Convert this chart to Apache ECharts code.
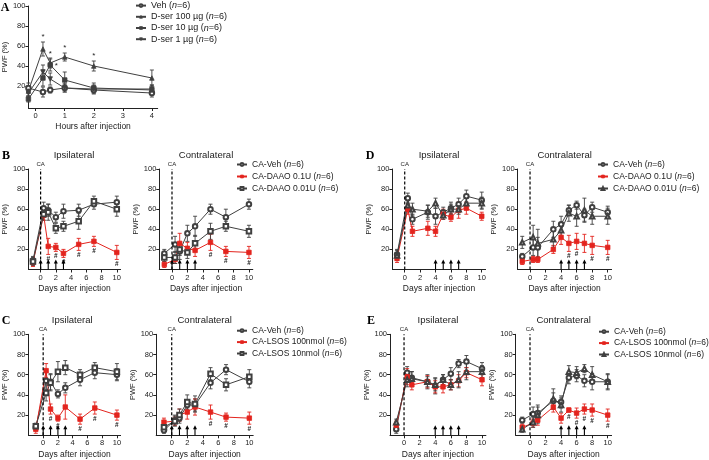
<!DOCTYPE html>
<html><head><meta charset="utf-8">
<script src="https://cdn.jsdelivr.net/npm/echarts@6/dist/echarts.min.js"></script>
<style>html,body{margin:0;padding:0;background:#fff}#c{width:709px;height:460px}</style>
</head><body><div id="c"></div>
<script>
// ---------- DATA ----------
const yTickValues = [20, 40, 60, 80, 100];
const hourTicks = [0, 1, 2, 3, 4];
const dayTicks = [0, 2, 4, 6, 8, 10];

// Panel A
const aHours = [-0.25, 0.25, 0.5, 1, 2, 4];
const aVeh = [18, 14, 16, 18, 16, 13];
const aVehErr = [5, 5, 3, 4, 4, 4];
const aD100 = [15, 57, 43, 49, 40, 28];
const aD100Err = [5, 7, 5, 4, 5, 8];
const aD10 = [7, 28, 41, 26, 18, 16];
const aD10Err = [3, 8, 6, 8, 5, 5];
const aD1 = [13, 34, 27, 18, 17, 17];
const aD1Err = [3, 7, 6, 4, 4, 4];

// Panels B/C (days)
const bcDays = [-1, 0.4, 1, 2, 3, 5, 7, 10];
// Panels D/E (days)
const deDays = [-1, 0.4, 1, 3, 4, 5, 6, 7, 8, 10];
const bcArrowDays = [0, 1, 2, 3];
const deArrowDays = [4, 5, 6, 7];
const caDay = [0];

// B ipsilateral
const bIpsiVeh = [9, 61, 59, 52, 58, 59, 65, 67];
const bIpsiVehErr = [4, 6, 6, 5, 7, 6, 5, 6];
const bIpsiHigh = [7, 54, 23, 22, 16, 25, 28, 17];
const bIpsiHighErr = [4, 5, 8, 4, 4, 6, 5, 7];
const bIpsiLow = [8, 55, 57, 41, 43, 48, 68, 60];
const bIpsiLowErr = [4, 6, 8, 5, 5, 8, 5, 7];
const bIpsiHash = [2, 3, 4, 5, 6, 7];
// B contralateral
const bContraVeh = [16, 25, 18, 36, 43, 60, 52, 65];
const bContraVehErr = [4, 8, 8, 8, 10, 5, 8, 5];
const bContraHigh = [5, 10, 26, 21, 19, 27, 18, 17];
const bContraHighErr = [3, 4, 10, 6, 6, 8, 5, 6];
const bContraLow = [12, 12, 20, 17, 26, 38, 43, 38];
const bContraLowErr = [4, 6, 6, 6, 8, 8, 5, 6];
const bContraHash = [5, 6, 7];

// C ipsilateral
const cIpsiVeh = [8, 54, 53, 41, 47, 55, 62, 60];
const cIpsiVehErr = [3, 9, 8, 4, 5, 6, 6, 6];
const cIpsiHigh = [6, 64, 26, 17, 28, 16, 27, 20];
const cIpsiHighErr = [4, 7, 5, 3, 12, 5, 6, 5];
const cIpsiLow = [9, 42, 52, 63, 67, 60, 67, 63];
const cIpsiLowErr = [3, 8, 8, 10, 7, 5, 5, 8];
const cIpsiHash = [2, 3, 5, 6, 7];
// C contralateral
const cContraVeh = [5, 15, 17, 30, 30, 52, 65, 53];
const cContraVehErr = [3, 5, 5, 5, 6, 6, 5, 6];
const cContraHigh = [13, 14, 20, 23, 28, 23, 18, 17];
const cContraHighErr = [4, 4, 6, 7, 8, 7, 4, 6];
const cContraLow = [8, 14, 20, 33, 31, 61, 50, 58];
const cContraLowErr = [3, 5, 6, 7, 8, 6, 6, 7];
const cContraHash = [5, 6, 7];

// D ipsilateral
const dIpsiVeh = [15, 71, 50, 57, 53, 57, 61, 65, 73, 69];
const dIpsiVehErr = [5, 5, 5, 7, 8, 5, 6, 6, 6, 8];
const dIpsiHigh = [11, 60, 38, 41, 38, 55, 52, 59, 61, 53];
const dIpsiHighErr = [4, 5, 5, 7, 5, 5, 4, 8, 6, 4];
const dIpsiLow = [14, 64, 60, 58, 66, 54, 60, 60, 66, 66];
const dIpsiLowErr = [5, 5, 6, 6, 5, 4, 5, 5, 6, 6];
const dIpsiHash = [];
// D contralateral
const dContraVeh = [13, 22, 22, 40, 45, 59, 64, 54, 62, 57];
const dContraVehErr = [3, 8, 10, 8, 8, 5, 4, 6, 5, 6];
const dContraHigh = [8, 10, 10, 20, 32, 26, 28, 26, 24, 22];
const dContraHighErr = [3, 3, 3, 4, 7, 8, 8, 9, 9, 7];
const dContraLow = [27, 32, 26, 30, 39, 56, 53, 59, 53, 53];
const dContraLowErr = [6, 12, 14, 8, 7, 8, 10, 12, 8, 8];
const dContraHash = [5, 6, 8, 9];

// E ipsilateral
const eIpsiVeh = [6, 62, 57, 53, 49, 55, 61, 71, 73, 66];
const eIpsiVehErr = [4, 6, 6, 7, 8, 5, 6, 4, 6, 6];
const eIpsiHigh = [10, 58, 50, 53, 48, 48, 50, 54, 62, 55];
const eIpsiHighErr = [4, 8, 5, 6, 6, 6, 5, 6, 5, 6];
const eIpsiLow = [13, 55, 56, 53, 50, 55, 50, 55, 63, 63];
const eIpsiLowErr = [3, 7, 7, 5, 6, 5, 5, 8, 8, 6];
const eIpsiHash = [];
// E contralateral
const eContraVeh = [15, 21, 22, 34, 33, 57, 59, 54, 53, 53];
const eContraVehErr = [3, 7, 8, 8, 6, 6, 6, 6, 8, 7];
const eContraHigh = [8, 12, 15, 28, 17, 25, 22, 26, 25, 20];
const eContraHighErr = [3, 4, 5, 5, 5, 2, 5, 5, 6, 6];
const eContraLow = [6, 13, 20, 36, 30, 63, 62, 66, 60, 53];
const eContraLowErr = [3, 5, 8, 10, 7, 6, 6, 4, 8, 8];
const eContraHash = [5, 6, 7, 8, 9];

const aNames = ['Veh (n=6)', 'D-ser 100 µg (n=6)', 'D-ser 10 µg (n=6)', 'D-ser 1 µg (n=6)'];
const daaoNames = ['CA-Veh (n=6)', 'CA-DAAO 0.1U (n=6)', 'CA-DAAO 0.01U (n=6)'];
const lsosNames = ['CA-Veh (n=6)', 'CA-LSOS 100nmol (n=6)', 'CA-LSOS 10nmol (n=6)'];

// ---------- STYLE / LAYOUT ----------
const FONT = '"Liberation Sans", Arial, Helvetica, sans-serif';
const SERIF = '"Liberation Serif", "Times New Roman", serif';
const GRAY = '#404040';
const RED = '#e3241e';
const INK = '#222';

const panels = [
  { id: 'A', grid: { left: 22.4, top: 6, width: 135.3, height: 102 }, xr: [-0.25, 4.2], yr: [-2, 100], xt: hourTicks, xName: 'Hours after injection', days: aHours,
    series: [
      { name: aNames[0], v: aVeh, e: aVehErr, sym: 'emptyCircle', c: GRAY },
      { name: aNames[1], v: aD100, e: aD100Err, sym: 'triangle', c: GRAY },
      { name: aNames[2], v: aD10, e: aD10Err, sym: 'rect', c: GRAY },
      { name: aNames[3], v: aD1, e: aD1Err, sym: 'triangle', rot: 180, c: GRAY }
    ], legend: { left: 135, top: 0, fs: 9, lh: 11.2 }, letterPos: [5, 8], letter: 'A' },
];
function pair(letter, letterX, ipsiGrid, contraGrid, days, arrows, names, symLow, ipsi, contra, legendPos, titleY) {
  const mk = (side, d) => [
    { name: letter + side + '|' + names[0], v: d[0], e: d[1], sym: 'emptyCircle', c: GRAY },
    { name: letter + side + '|' + names[1], v: d[2], e: d[3], sym: 'rect', c: RED, hash: d[6] },
    { name: letter + side + '|' + names[2], v: d[4], e: d[5], sym: symLow, c: GRAY }
  ];
  panels.push({ id: letter + '1', grid: ipsiGrid.g, xr: ipsiGrid.xr, yr: [0, 100], xt: dayTicks, xName: 'Days after injection', days, arrows, ca: true,
    series: mk('1', ipsi), legend: null, title: 'Ipsilateral', titleY, letter, letterPos: [letterX, titleY + 1] });
  panels.push({ id: letter + '2', grid: contraGrid.g, xr: contraGrid.xr, yr: [0, 100], xt: dayTicks, xName: 'Days after injection', days, arrows, ca: true,
    series: mk('2', contra), legend: legendPos, title: 'Contralateral', titleY, legendSeries: mk('1', ipsi) });
}
pair('B', 6, { g: { left: 27.4, top: 169, width: 93.2, height: 100.5 }, xr: [-1.6, 10.5] },
          { g: { left: 159.3, top: 169, width: 93.5, height: 100.5 }, xr: [-1.65, 10.5] },
  bcDays, bcArrowDays, daaoNames, 'emptyRect',
  [bIpsiVeh, bIpsiVehErr, bIpsiHigh, bIpsiHighErr, bIpsiLow, bIpsiLowErr, bIpsiHash],
  [bContraVeh, bContraVehErr, bContraHigh, bContraHighErr, bContraLow, bContraLowErr, bContraHash],
  { left: 236, top: 158.5, fs: 8.5, lh: 12 }, 155);
pair('C', 6, { g: { left: 23.8, top: 334.3, width: 96.8, height: 101 }, xr: [-2, 10.5] },
          { g: { left: 156.2, top: 334.3, width: 97, height: 101 }, xr: [-2, 10.5] },
  bcDays, bcArrowDays, lsosNames, 'emptyRect',
  [cIpsiVeh, cIpsiVehErr, cIpsiHigh, cIpsiHighErr, cIpsiLow, cIpsiLowErr, cIpsiHash],
  [cContraVeh, cContraVehErr, cContraHigh, cContraHighErr, cContraLow, cContraLowErr, cContraHash],
  { left: 236, top: 325, fs: 8.5, lh: 11.4 }, 320);
pair('D', 370, { g: { left: 392.4, top: 169, width: 93.2, height: 100.5 }, xr: [-1.6, 10.5] },
          { g: { left: 517.6, top: 169, width: 94, height: 100.5 }, xr: [-1.6, 10.5] },
  deDays, deArrowDays, daaoNames, 'emptyTriangle',
  [dIpsiVeh, dIpsiVehErr, dIpsiHigh, dIpsiHighErr, dIpsiLow, dIpsiLowErr, dIpsiHash],
  [dContraVeh, dContraVehErr, dContraHigh, dContraHighErr, dContraLow, dContraLowErr, dContraHash],
  { left: 597, top: 158.5, fs: 8.5, lh: 12 }, 155);
pair('E', 371, { g: { left: 390, top: 334.3, width: 95.9, height: 101 }, xr: [-1.8, 10.5] },
          { g: { left: 515.7, top: 334.3, width: 95.9, height: 101 }, xr: [-1.84, 10.5] },
  deDays, deArrowDays, lsosNames, 'emptyTriangle',
  [eIpsiVeh, eIpsiVehErr, eIpsiHigh, eIpsiHighErr, eIpsiLow, eIpsiLowErr, eIpsiHash],
  [eContraVeh, eContraVehErr, eContraHigh, eContraHighErr, eContraLow, eContraLowErr, eContraHash],
  { left: 598, top: 326, fs: 8.5, lh: 11.4 }, 320);

// asterisks for panel A: [seriesIndex, pointIndex, dx]
const aStars = [[1, 1, 0], [1, 3, 0], [1, 4, 0], [2, 2, 0], [3, 2, 6]];

// ---------- BUILD ----------
const grids = [], xAxes = [], yAxes = [], series = [], legends = [], graphics = [];
const axisCommon = {
  axisLine: { show: true, onZero: false, lineStyle: { color: INK, width: 1 } },
  splitLine: { show: false }
};
function legendFmt(name) {
  const n = name.indexOf('|') >= 0 ? name.split('|')[1] : name;
  const m = n.match(/^(.*\()n(=\d+\))$/);
  if (!m) return '{t|' + n + '}';
  return '{t|' + m[1] + '}{i|n}{t|' + m[2] + '}';
}
panels.forEach((p, gi) => {
  grids.push(Object.assign({ containLabel: false }, p.grid));
  xAxes.push(Object.assign({
    type: 'value', gridIndex: gi, min: p.xr[0], max: p.xr[1],
    name: p.xName, nameLocation: 'middle', nameGap: 14.5,
    nameTextStyle: { fontFamily: FONT, fontSize: 8.5, color: INK },
    axisTick: { show: true, length: 3, customValues: p.xt, lineStyle: { color: INK } },
    axisLabel: { show: true, customValues: p.xt, fontFamily: FONT, fontSize: 7.5, color: INK, margin: 4 }
  }, axisCommon));
  yAxes.push(Object.assign({
    type: 'value', gridIndex: gi, min: p.yr[0], max: p.yr[1],
    name: 'PWF (%)', nameLocation: 'middle', nameGap: p.id === 'A' ? 15 : 18,
    nameTextStyle: { fontFamily: FONT, fontSize: 7.5, color: INK },
    axisTick: { show: true, length: 3, customValues: yTickValues, lineStyle: { color: INK } },
    axisLabel: { show: true, customValues: yTickValues, fontFamily: FONT, fontSize: 7.5, color: INK, margin: 3 }
  }, axisCommon));

  p.series.forEach((s, si) => {
    const pts = p.days.map((d, j) => [d, s.v[j]]);
    // error bars
    series.push({
      type: 'custom', xAxisIndex: gi, yAxisIndex: gi, silent: true, z: 2,
      data: p.days.map((d, j) => [d, s.v[j], s.e[j]]),
      encode: { x: 0, y: 1 },
      renderItem: (params, api) => {
        const x = api.value(0), y = api.value(1), e = api.value(2);
        const t = api.coord([x, y + e]), b = api.coord([x, y - e]);
        const w = 2;
        const st = { stroke: s.c, lineWidth: 0.9 };
        return { type: 'group', children: [
          { type: 'line', shape: { x1: t[0], y1: t[1], x2: b[0], y2: b[1] }, style: st },
          { type: 'line', shape: { x1: t[0] - w, y1: t[1], x2: t[0] + w, y2: t[1] }, style: st },
          { type: 'line', shape: { x1: b[0] - w, y1: b[1], x2: b[0] + w, y2: b[1] }, style: st }
        ] };
      }
    });
    series.push({
      type: 'line', name: s.name, xAxisIndex: gi, yAxisIndex: gi, data: pts,
      symbol: s.sym, symbolSize: 4.5, symbolRotate: s.rot || 0, showAllSymbol: true,
      itemStyle: { color: s.c, borderColor: s.c, borderWidth: 0.8 },
      lineStyle: { color: s.c, width: 1 }, emphasis: { disabled: true }, z: 3, silent: true
    });
    if (s.hash && s.hash.length) {
      series.push({
        type: 'custom', xAxisIndex: gi, yAxisIndex: gi, silent: true, z: 4,
        data: s.hash.map(j => [p.days[j], s.v[j] - s.e[j]]),
        encode: { x: 0, y: 1 },
        renderItem: (params, api) => {
          const c = api.coord([api.value(0), api.value(1)]);
          return { type: 'text', x: c[0], y: c[1] + 5, style: { text: '#', fontFamily: FONT, fontSize: 6.5, fontWeight: 'bold', fill: INK, align: 'center', verticalAlign: 'middle' } };
        }
      });
    }
  });

  if (p.id === 'A') {
    series.push({
      type: 'custom', xAxisIndex: gi, yAxisIndex: gi, silent: true, z: 4,
      data: aStars.map(([si, j, dx]) => {
        const s = p.series[si];
        return [p.days[j], dx ? s.v[j] + s.e[j] + 2 : s.v[j] + s.e[j], dx];
      }),
      encode: { x: 0, y: 1 },
      renderItem: (params, api) => {
        const c = api.coord([api.value(0), api.value(1)]);
        const dx = api.value(2);
        return { type: 'text', x: c[0] + dx, y: c[1] - 5, style: { text: '*', fontFamily: FONT, fontSize: 8, fill: INK, align: 'center', verticalAlign: 'middle' } };
      }
    });
  }

  if (p.ca) {
    series.push({
      type: 'custom', xAxisIndex: gi, yAxisIndex: gi, silent: true, z: 5,
      data: caDay.map(d => [d, 0]), encode: { x: 0, y: 1 },
      renderItem: (params, api) => {
        const a = api.coord([api.value(0), 0]), b = api.coord([api.value(0), 100]);
        return { type: 'group', children: [
          { type: 'line', shape: { x1: a[0], y1: a[1], x2: b[0], y2: b[1] }, style: { stroke: '#000', lineWidth: 1.2, lineDash: [3, 2] } },
          { type: 'text', x: b[0], y: b[1] - 4.5, style: { text: 'CA', fontFamily: FONT, fontSize: 6, fill: INK, align: 'center', verticalAlign: 'middle' } }
        ] };
      }
    });
  }
  if (p.arrows) {
    series.push({
      type: 'custom', xAxisIndex: gi, yAxisIndex: gi, silent: true, z: 5,
      data: p.arrows.map(d => [d, 9]), encode: { x: 0, y: 1 },
      renderItem: (params, api) => {
        const a = api.coord([api.value(0), 0]), b = api.coord([api.value(0), api.value(1)]);
        return { type: 'group', children: [
          { type: 'line', shape: { x1: a[0], y1: a[1], x2: b[0], y2: b[1] + 2 }, style: { stroke: '#000', lineWidth: 1.1 } },
          { type: 'polygon', shape: { points: [[b[0], b[1] - 1], [b[0] - 2, b[1] + 3], [b[0] + 2, b[1] + 3]] }, style: { fill: '#000' } }
        ] };
      }
    });
  }

  const lg = p.legend;
  if (lg) {
    const names = (p.legendSeries || p.series).map(s => s.name);
    legends.push({
      orient: 'vertical', left: lg.left, top: lg.top, itemWidth: 10, itemHeight: 3.5, itemGap: 0,
      padding: 0, selectedMode: false, data: names, formatter: legendFmt,
      itemStyle: { borderWidth: 0.8 },
      textStyle: { fontFamily: FONT, fontSize: lg.fs, color: INK, lineHeight: lg.lh,
        rich: { t: { fontFamily: FONT, fontSize: lg.fs, color: INK, lineHeight: lg.lh },
                i: { fontFamily: FONT, fontSize: lg.fs, color: INK, fontStyle: 'italic', lineHeight: lg.lh } } }
    });
  }
  if (p.title) {
    const cx = p.grid.left + p.grid.width / 2;
    graphics.push({ type: 'text', x: cx, y: p.titleY, style: { text: p.title, fontFamily: FONT, fontSize: 9.5, fill: INK, align: 'center', verticalAlign: 'middle' } });
  }
  if (p.letter) {
    graphics.push({ type: 'text', x: p.letterPos[0], y: p.letterPos[1], style: { text: p.letter, fontFamily: SERIF, fontSize: 12, fontWeight: 'bold', fill: '#000', align: 'center', verticalAlign: 'middle' } });
  }
});

const chart = echarts.init(document.getElementById('c'), null, { renderer: 'canvas' });
chart.setOption({
  animation: false, backgroundColor: '#fff',
  grid: grids, xAxis: xAxes, yAxis: yAxes, series, legend: legends, graphic: graphics,
  tooltip: { show: false }
});
</script></body></html>
